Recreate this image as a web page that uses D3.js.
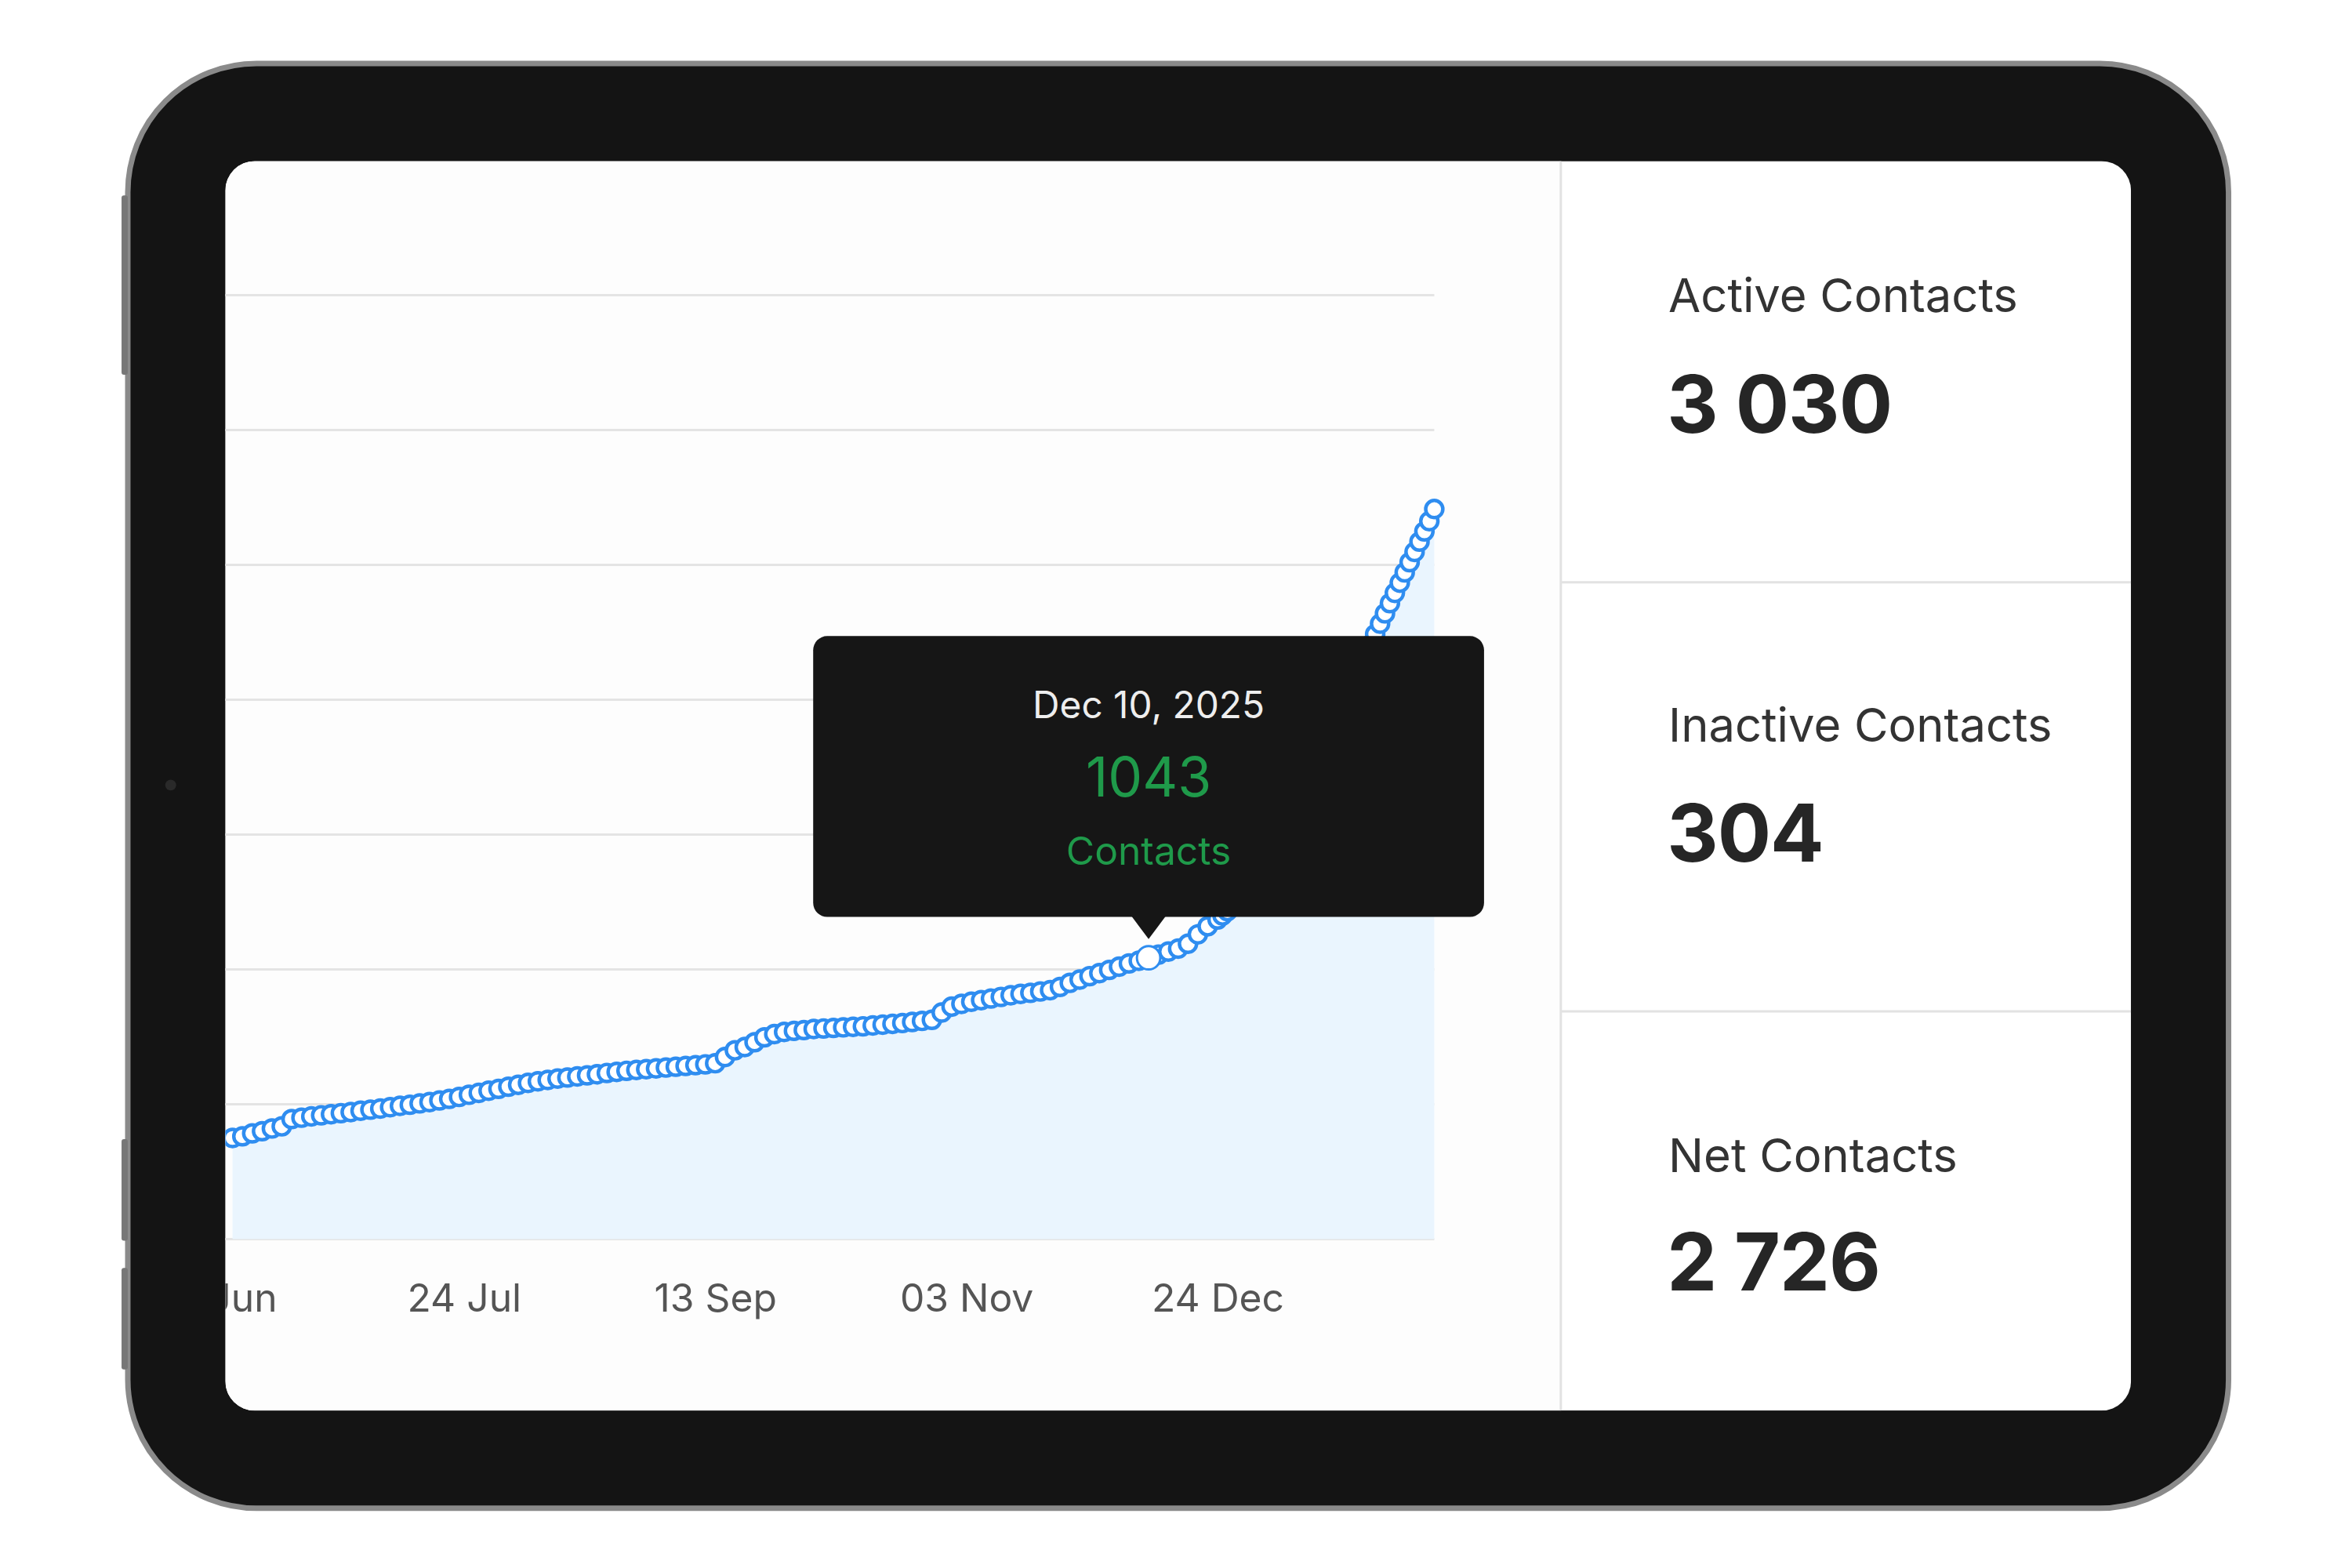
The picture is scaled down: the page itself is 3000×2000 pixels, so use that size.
<!DOCTYPE html>
<html><head><meta charset="utf-8">
<script src="https://cdn.jsdelivr.net/npm/d3@7"></script>
<style>html,body{margin:0;padding:0;background:#fff}svg{display:block}</style>
</head><body>
<script>
// segment A: every 2 days from Jun 7 2025 to Dec 24 2025
const startDateA = "2025-06-07";
const valuesA = [375,
 381,392,400,410,418,445,
 450,455,459,463,467,471,476,480,484,489,494,498,503,508,514,520,527,535,542,
 550,557,565,572,579,585,590,595,599,603,607,611,616,620,
 624,627,630,633,636,639,642,645,648,652,
 675,700,712,730,748,760,768,
 772,775,779,781,783,785,787,789,792,795,798,801,805,809,813,
 840,862,872,880,886,892,898,904,909,913,918,923,
 935,950,962,975,986,998,1010,1022,1032,1043,
 1055,1066,1077,1095,1130,1160,1185];
// segment B: daily from Dec 25 2025
const startDateB = "2025-12-25";
const valuesB = [1200,1216,1232,1268,1303,1338,1372,1407,1442,1476,1511,1546,1580,1615,1650,1684,1719,1754,1788,1823,1858,1892,1927,1962,1996,2031,2066,2100,2135,2170,2204,2243,2282,2320,2358,2396,2434,2472,2510,2548,2586,2624,2662,2707];
const tickDates = ["2025-06-03","2025-07-24","2025-09-13","2025-11-03","2025-12-24"];
const tickLabels = ["03 Jun","24 Jul","13 Sep","03 Nov","24 Dec"];
const yTicks = [0,500,1000,1500,2000,2500,3000,3500];
const tooltipDate = "Dec 10, 2025";
const tooltipValue = 1043;
const tooltipUnit = "Contacts";
const statLabels = ["Active Contacts","Inactive Contacts","Net Contacts"];
const statValues = ["3 030","304","2 726"];

const W=3000,H=2000;
const root=d3.select("body").append("svg").attr("width",W).attr("height",H);
const svg=root.append("g").attr("transform","translate(163,81) scale(0.995) translate(-163,-81)");
const font="Inter, 'Open Sans', sans-serif";

svg.append("rect").attr("x",163).attr("y",81).attr("width",2693).attr("height",1852).attr("rx",165)
  .attr("fill","#141414").attr("stroke","#8a8a8a").attr("stroke-width",7);
[[250,480],[1460,1590],[1625,1755]].forEach(([a,b])=>svg.append("rect").attr("x",155).attr("y",a).attr("width",8).attr("height",b-a).attr("rx",3).attr("fill","#777"));
svg.append("circle").attr("cx",218).attr("cy",1006).attr("r",7).attr("fill","#2a2a2a");
const defs=root.append("defs");
defs.append("clipPath").attr("id","scr").append("rect").attr("x",288).attr("y",206).attr("width",2443).attr("height",1602).attr("rx",38);
const scr=svg.append("g").attr("clip-path","url(#scr)");
scr.append("rect").attr("x",288).attr("y",206).attr("width",2443).attr("height",1602).attr("fill","#fff");
scr.append("rect").attr("x",288).attr("y",206).attr("width",1712).attr("height",1602).attr("fill","#fdfdfd");

const parse=d3.utcParse("%Y-%m-%d");
const data=[
  ...valuesA.map((v,i)=>({d:d3.utcDay.offset(parse(startDateA),i*2),v})),
  ...valuesB.map((v,i)=>({d:d3.utcDay.offset(parse(startDateB),i),v}))];
const x=d3.scaleUtc().domain([parse("2025-07-24"),parse("2025-12-24")]).range([594,1560]);
const y=d3.scaleLinear().domain([0,3500]).range([1588,378]);
const xEnd=x(data[data.length-1].d);

scr.append("g").selectAll("line").data(yTicks).join("line")
  .attr("x1",270).attr("x2",xEnd).attr("y1",d=>y(d)).attr("y2",d=>y(d))
  .attr("stroke","#e4e4e4").attr("stroke-width",3);
scr.append("path").datum(data).attr("fill","#eaf5fe")
  .attr("d",d3.area().x(d=>x(d.d)).y0(y(0)).y1(d=>y(d.v)));
scr.append("path").datum(data).attr("fill","none").attr("stroke","#2f8df0").attr("stroke-width",6)
  .attr("d",d3.line().x(d=>x(d.d)).y(d=>y(d.v)));
scr.append("g").selectAll("circle").data(data).join("circle")
  .attr("cx",d=>x(d.d)).attr("cy",d=>y(d.v)).attr("r",11)
  .attr("fill","#fff").attr("stroke","#2f8df0").attr("stroke-width",4.5);
const xa=scr.append("g").attr("transform","translate(0,1681)")
  .call(d3.axisBottom(x).tickValues(tickDates.map(parse)).tickFormat((d,i)=>tickLabels[i]).tickSize(0));
xa.select(".domain").remove();
xa.selectAll("text").attr("font-family",font).attr("font-size",50).attr("fill","#555").attr("dy",0).attr("y",0);

const tp=data.reduce((a,b)=>Math.abs(b.v-tooltipValue)<Math.abs(a.v-tooltipValue)?b:a);
const px=x(tp.d),py=y(tp.v);
scr.append("circle").attr("cx",px).attr("cy",py).attr("r",15).attr("fill","#fff").attr("stroke","#2f8df0").attr("stroke-width",3);
const tg=scr.append("g");
tg.append("rect").attr("x",px-430).attr("y",815).attr("width",860).attr("height",360).attr("rx",18).attr("fill","#161616");
tg.append("path").attr("d",`M${px-22},1174L${px},${py-24}L${px+22},1174Z`).attr("fill","#161616");
tg.append("text").attr("x",px).attr("y",920).attr("text-anchor","middle").attr("font-family",font).attr("font-size",48).attr("fill","#eee").text(tooltipDate);
tg.append("text").attr("x",px).attr("y",1021).attr("text-anchor","middle").attr("font-family",font).attr("font-size",70).attr("fill","#1f9a4a").text(tooltipValue);
tg.append("text").attr("x",px).attr("y",1108).attr("text-anchor","middle").attr("font-family",font).attr("font-size",50).attr("fill","#1f9a4a").text(tooltipUnit);

scr.append("line").attr("x1",2000).attr("x2",2000).attr("y1",206).attr("y2",1808).attr("stroke","#e2e2e2").attr("stroke-width",3);
[746,1296].forEach(yy=>scr.append("line").attr("x1",2000).attr("x2",2731).attr("y1",yy).attr("y2",yy).attr("stroke","#e2e2e2").attr("stroke-width",3));
const lb=[400,950,1502], nb=[554,1104,1654];
statLabels.forEach((t,i)=>{
  scr.append("text").attr("x",2138).attr("y",lb[i]).attr("font-family",font).attr("font-size",60).attr("fill","#333").text(t);
  scr.append("text").attr("x",2136).attr("y",nb[i]).attr("font-family",font).attr("font-size",102).attr("font-weight",700).attr("letter-spacing",-1).attr("fill","#262626").text(statValues[i]);
});
</script>
</body></html>
